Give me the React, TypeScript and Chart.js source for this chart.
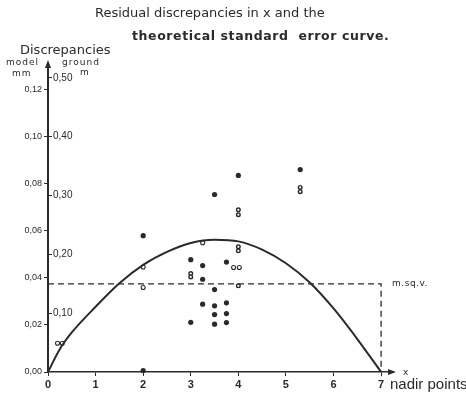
import React, { useEffect, useRef } from "react";
import { Chart, registerables } from "chart.js";

Chart.register(...registerables);

// ---- data ----
const xTicks = [0, 1, 2, 3, 4, 5, 6, 7];
const modelTicks = [0, 0.02, 0.04, 0.06, 0.08, 0.1, 0.12];
const groundTicks = [0.1, 0.2, 0.3, 0.4, 0.5];

// theoretical standard error curve (read at sample points)
const curveX = [0, 0.25, 0.5, 1, 1.5, 2, 2.5, 3, 3.5, 4, 4.5, 5, 5.5, 6, 6.5, 7];
const curveY = [0, 0.0098, 0.0168, 0.0277, 0.0377, 0.0455, 0.051, 0.0548, 0.0562, 0.0555, 0.052, 0.0462, 0.038, 0.027, 0.014, 0];

// filled dots
const dotX = [2, 2, 3.5, 4, 5.3, 3, 3.25, 3.75, 3.25, 3.5, 3.25, 3.5, 3.75, 3.5, 3.75, 3, 3.5, 3.75];
const dotY = [0.0579, 0.0006, 0.0754, 0.0835, 0.086, 0.0477, 0.0452, 0.0467, 0.0394, 0.035, 0.0288, 0.0281, 0.0294, 0.0244, 0.0248, 0.0211, 0.0203, 0.021];

// stacked small rings ("8" shaped marks)
const ringX = [4, 4, 5.3, 5.3, 4, 4, 3, 3, 4];
const ringY = [0.0689, 0.0668, 0.0784, 0.0766, 0.0532, 0.0515, 0.0418, 0.0404, 0.0366];

// open circles
const openX = [2, 2, 3.25, 0.2, 0.3, 3.9, 4.02];
const openY = [0.0446, 0.0359, 0.0549, 0.0122, 0.0122, 0.0444, 0.0444];

// mean square value line
const msqv = 0.0374;
const msqvX = [0, 7, 7];
const msqvY = [msqv, msqv, 0];

const titleLine1 = "Residual discrepancies in x and the";
const titleLine2 = "theoretical standard  error curve.";

const INK = "#2a2a2a";
const FONT = "'DejaVu Sans', sans-serif";
const NFONT = "'Liberation Sans', sans-serif";

const pts = (xs: number[], ys: number[]) => xs.map((x, i) => ({ x, y: ys[i] }));
const fmt = (v: number) => v.toFixed(2).replace(".", ",");

const annotations = {
  id: "annotations",
  afterDraw(chart: any) {
    const { ctx, chartArea, scales } = chart;
    const xs = scales.x;
    const ys = scales.y;
    ctx.save();
    ctx.fillStyle = INK;
    ctx.strokeStyle = INK;
    ctx.textBaseline = "middle";
    ctx.textAlign = "left";

    // title
    ctx.font = `13px ${FONT}`;
    ctx.fillText(titleLine1, 95, 14);
    ctx.font = `bold 12.5px ${FONT}`;
    (ctx as any).letterSpacing = "0.6px";
    ctx.fillText(titleLine2, 132, 37);
    (ctx as any).letterSpacing = "0px";

    // y axis heading
    ctx.font = `13px ${FONT}`;
    ctx.fillText("Discrepancies", 20, 51);
    ctx.font = `9px ${FONT}`;
    (ctx as any).letterSpacing = "1px";
    ctx.fillText("model", 6, 63);
    ctx.fillText("ground", 62, 63);
    ctx.fillText("mm", 12, 74);
    ctx.fillText("m", 80, 73);
    (ctx as any).letterSpacing = "0px";

    // arrows
    const ax = chartArea.left;
    ctx.beginPath();
    ctx.moveTo(ax, chartArea.top - 6);
    ctx.lineTo(ax - 3, chartArea.top + 2);
    ctx.lineTo(ax + 3, chartArea.top + 2);
    ctx.closePath();
    ctx.fill();
    const ay = chartArea.bottom;
    ctx.beginPath();
    ctx.moveTo(chartArea.right + 3, ay);
    ctx.lineTo(chartArea.right - 5, ay - 3);
    ctx.lineTo(chartArea.right - 5, ay + 3);
    ctx.closePath();
    ctx.fill();

    // m.sq.v. label
    ctx.font = `9px ${FONT}`;
    (ctx as any).letterSpacing = "0.5px";
    ctx.fillText("m.sq.v.", xs.getPixelForValue(7) + 11, ys.getPixelForValue(msqv));
    (ctx as any).letterSpacing = "0px";

    // x axis labels
    ctx.font = `9px ${FONT}`;
    ctx.fillText("x", chartArea.right + 10, ay + 1);
    ctx.font = `15px ${NFONT}`;
    ctx.fillText("nadir points", chartArea.right - 3, ay + 13);
    ctx.restore();
  },
};

export default function App() {
  const ref = useRef<HTMLCanvasElement | null>(null);

  useEffect(() => {
    document.body.style.margin = "0";
    document.body.style.background = "#ffffff";
    const canvas = ref.current;
    if (!canvas) return;
    const chart = new Chart(canvas, {
      type: "scatter",
      data: {
        datasets: [
          {
            label: "m.sq.v.",
            data: pts(msqvX, msqvY),
            showLine: true,
            borderColor: INK,
            borderWidth: 1.3,
            borderDash: [6, 4],
            pointRadius: 0,
            clip: false,
          } as any,
          {
            label: "standard error curve",
            data: pts(curveX, curveY),
            showLine: true,
            borderColor: INK,
            borderWidth: 2,
            pointRadius: 0,
            cubicInterpolationMode: "monotone",
            clip: false,
          },
          {
            label: "discrepancies",
            data: pts(dotX, dotY),
            pointRadius: 2.6,
            pointBackgroundColor: INK,
            pointBorderColor: INK,
            pointBorderWidth: 0,
            clip: false,
          },
          {
            label: "double",
            data: pts(ringX, ringY),
            pointRadius: 1.8,
            pointBackgroundColor: "#ffffff",
            pointBorderColor: INK,
            pointBorderWidth: 1.4,
            clip: false,
          },
          {
            label: "open",
            data: pts(openX, openY),
            pointRadius: 2,
            pointBackgroundColor: "#ffffff",
            pointBorderColor: INK,
            pointBorderWidth: 1.1,
            clip: false,
          },
        ],
      },
      options: {
        responsive: false,
        animation: false,
        events: [],
        layout: { padding: { top: 66, right: 73, left: 0, bottom: 0 } },
        plugins: {
          legend: { display: false },
          tooltip: { enabled: false },
          title: { display: false },
        },
        scales: {
          x: {
            type: "linear",
            min: 0,
            max: 7.25,
            afterFit: (s: any) => {
              s.height = 25;
            },
            afterBuildTicks: (s: any) => {
              s.ticks = xTicks.map((v) => ({ value: v }));
            },
            border: { color: INK, width: 1.5 },
            grid: { drawOnChartArea: false, tickLength: 4, color: INK, lineWidth: 1 },
            ticks: {
              color: INK,
              font: { family: NFONT, size: 11, weight: "bold" },
              padding: 2,
              maxRotation: 0,
              autoSkip: false,
              callback: (v: any) => String(v),
            },
          },
          y: {
            type: "linear",
            position: "left",
            weight: 2,
            min: 0,
            max: 0.13,
            afterFit: (s: any) => {
              s.width = 48;
            },
            afterBuildTicks: (s: any) => {
              s.ticks = modelTicks.map((v) => ({ value: v }));
            },
            border: { color: INK, width: 2 },
            grid: { drawOnChartArea: false, tickLength: 4, color: INK, lineWidth: 1 },
            ticks: {
              color: INK,
              font: { family: NFONT, size: 9 },
              padding: 2,
              autoSkip: false,
              callback: (v: any) => fmt(Number(v)),
            },
          },
          y2: {
            type: "linear",
            position: "left",
            weight: 1,
            min: 0,
            max: 0.52,
            afterFit: (s: any) => {
              s.width = 0;
            },
            afterBuildTicks: (s: any) => {
              s.ticks = groundTicks.map((v) => ({ value: v }));
            },
            border: { display: false },
            grid: { drawOnChartArea: false, tickLength: -4, color: INK, lineWidth: 1 },
            ticks: {
              mirror: true,
              color: INK,
              font: { family: NFONT, size: 10 },
              padding: 5,
              autoSkip: false,
              callback: (v: any) => fmt(Number(v)),
            },
          },
        },
      } as any,
      plugins: [annotations],
    });
    return () => chart.destroy();
  }, []);

  return (
    <div style={{ width: 466, height: 397, overflow: "hidden", background: "#fff" }}>
      <canvas ref={ref} width={466} height={397} style={{ display: "block" }} />
    </div>
  );
}
